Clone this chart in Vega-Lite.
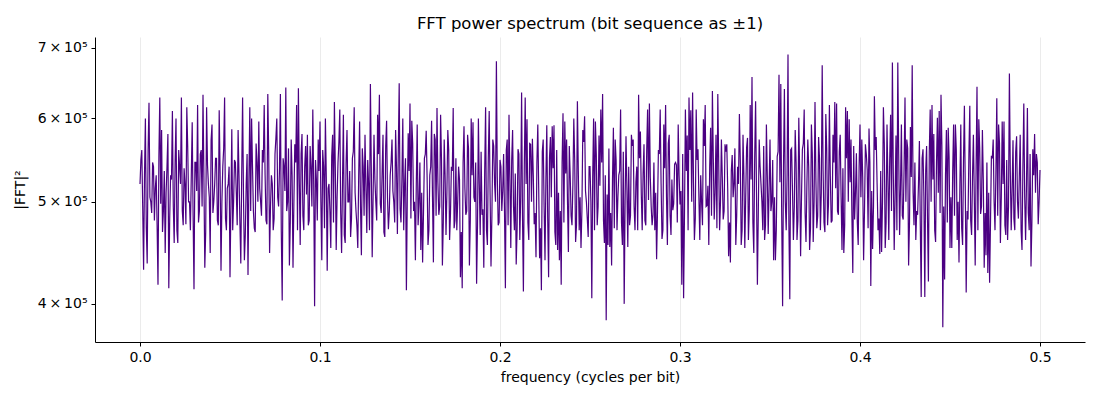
{
  "$schema": "https://vega.github.io/schema/vega-lite/v6.json",
  "width": 990,
  "height": 305,
  "autosize": "none",
  "padding": {"left": 95, "top": 37, "right": 15, "bottom": 58},
  "background": "white",
  "title": {
    "text": "FFT power spectrum (bit sequence as ±1)",
    "font": "DejaVu Sans",
    "fontSize": 16.5,
    "fontWeight": "normal",
    "color": "black",
    "offset": 5
  },
  "data": {
    "values": [
      {"f":0.000,"p":520e3},{"f":0.001,"p":560e3},{"f":0.002,"p":431e3},{"f":0.003,"p":600e3},{"f":0.004,"p":437e3},
      {"f":0.005,"p":621e3},{"f":0.006,"p":500e3},{"f":0.007,"p":545e3},{"f":0.008,"p":480e3},{"f":0.009,"p":530e3},
      {"f":0.010,"p":417e3},{"f":0.011,"p":628e3},{"f":0.012,"p":585e3},{"f":0.013,"p":490e3},{"f":0.014,"p":447e3},
      {"f":0.015,"p":540e3},{"f":0.016,"p":414e3},{"f":0.017,"p":530e3},{"f":0.018,"p":610e3},{"f":0.019,"p":457e3},
      {"f":0.020,"p":600e3},{"f":0.021,"p":457e3},{"f":0.022,"p":540e3},{"f":0.023,"p":628e3},{"f":0.024,"p":475e3},
      {"f":0.025,"p":520e3},{"f":0.026,"p":615e3},{"f":0.027,"p":500e3},{"f":0.028,"p":470e3},{"f":0.029,"p":595e3},
      {"f":0.030,"p":413e3},{"f":0.031,"p":545e3},{"f":0.032,"p":618e3},{"f":0.033,"p":490e3},{"f":0.034,"p":560e3},
      {"f":0.035,"p":632e3},{"f":0.036,"p":433e3},{"f":0.037,"p":615e3},{"f":0.038,"p":520e3},{"f":0.039,"p":447e3},
      {"f":0.040,"p":592e3},{"f":0.041,"p":500e3},{"f":0.042,"p":550e3},{"f":0.043,"p":480e3},{"f":0.044,"p":611e3},
      {"f":0.045,"p":430e3},{"f":0.046,"p":540e3},{"f":0.047,"p":628e3},{"f":0.048,"p":470e3},{"f":0.049,"p":520e3},
      {"f":0.050,"p":424e3},{"f":0.051,"p":586e3},{"f":0.052,"p":500e3},{"f":0.053,"p":545e3},{"f":0.054,"p":475e3},
      {"f":0.055,"p":530e3},{"f":0.056,"p":437e3},{"f":0.057,"p":628e3},{"f":0.058,"p":440e3},{"f":0.059,"p":520e3},
      {"f":0.060,"p":426e3},{"f":0.061,"p":615e3},{"f":0.062,"p":600e3},{"f":0.063,"p":490e3},{"f":0.064,"p":468e3},
      {"f":0.065,"p":545e3},{"f":0.066,"p":596e3},{"f":0.067,"p":500e3},{"f":0.068,"p":560e3},{"f":0.069,"p":618e3},
      {"f":0.070,"p":480e3},{"f":0.071,"p":633e3},{"f":0.072,"p":447e3},{"f":0.073,"p":530e3},{"f":0.074,"p":470e3},
      {"f":0.075,"p":555e3},{"f":0.076,"p":600e3},{"f":0.077,"p":495e3},{"f":0.078,"p":633e3},{"f":0.079,"p":403e3},
      {"f":0.080,"p":540e3},{"f":0.081,"p":642e3},{"f":0.082,"p":500e3},{"f":0.083,"p":435e3},{"f":0.084,"p":573e3},
      {"f":0.085,"p":433e3},{"f":0.086,"p":567e3},{"f":0.087,"p":618e3},{"f":0.088,"p":641e3},{"f":0.089,"p":455e3},
      {"f":0.090,"p":580e3},{"f":0.091,"p":470e3},{"f":0.092,"p":565e3},{"f":0.093,"p":579e3},{"f":0.094,"p":480e3},
      {"f":0.095,"p":540e3},{"f":0.096,"p":612e3},{"f":0.097,"p":398e3},{"f":0.098,"p":525e3},{"f":0.099,"p":573e3},
      {"f":0.100,"p":596e3},{"f":0.101,"p":440e3},{"f":0.102,"p":540e3},{"f":0.103,"p":600e3},{"f":0.104,"p":430e3},
      {"f":0.105,"p":520e3},{"f":0.106,"p":452e3},{"f":0.107,"p":579e3},{"f":0.108,"p":622e3},{"f":0.109,"p":450e3},
      {"f":0.110,"p":545e3},{"f":0.111,"p":612e3},{"f":0.112,"p":447e3},{"f":0.113,"p":605e3},{"f":0.114,"p":457e3},
      {"f":0.115,"p":585e3},{"f":0.116,"p":500e3},{"f":0.117,"p":463e3},{"f":0.118,"p":550e3},{"f":0.119,"p":615e3},
      {"f":0.120,"p":490e3},{"f":0.121,"p":452e3},{"f":0.122,"p":596e3},{"f":0.123,"p":445e3},{"f":0.124,"p":540e3},
      {"f":0.125,"p":579e3},{"f":0.126,"p":467e3},{"f":0.127,"p":520e3},{"f":0.128,"p":647e3},{"f":0.129,"p":443e3},
      {"f":0.130,"p":579e3},{"f":0.131,"p":500e3},{"f":0.132,"p":605e3},{"f":0.133,"p":632e3},{"f":0.134,"p":488e3},
      {"f":0.135,"p":579e3},{"f":0.136,"p":463e3},{"f":0.137,"p":597e3},{"f":0.138,"p":471e3},{"f":0.139,"p":530e3},
      {"f":0.140,"p":573e3},{"f":0.141,"p":500e3},{"f":0.142,"p":585e3},{"f":0.143,"p":466e3},{"f":0.144,"p":648e3},
      {"f":0.145,"p":478e3},{"f":0.146,"p":600e3},{"f":0.147,"p":520e3},{"f":0.148,"p":412e3},{"f":0.149,"p":581e3},
      {"f":0.150,"p":620e3},{"f":0.151,"p":597e3},{"f":0.152,"p":490e3},{"f":0.153,"p":440e3},{"f":0.154,"p":592e3},
      {"f":0.155,"p":500e3},{"f":0.156,"p":450e3},{"f":0.157,"p":438e3},{"f":0.158,"p":550e3},{"f":0.159,"p":584e3},
      {"f":0.160,"p":455e3},{"f":0.161,"p":530e3},{"f":0.162,"p":597e3},{"f":0.163,"p":438e3},{"f":0.164,"p":573e3},
      {"f":0.165,"p":614e3},{"f":0.166,"p":486e3},{"f":0.167,"p":605e3},{"f":0.168,"p":435e3},{"f":0.169,"p":573e3},
      {"f":0.170,"p":465e3},{"f":0.171,"p":585e3},{"f":0.172,"p":460e3},{"f":0.173,"p":540e3},{"f":0.174,"p":614e3},
      {"f":0.175,"p":480e3},{"f":0.176,"p":470e3},{"f":0.177,"p":540e3},{"f":0.178,"p":424e3},{"f":0.179,"p":414e3},
      {"f":0.180,"p":590e3},{"f":0.181,"p":486e3},{"f":0.182,"p":579e3},{"f":0.183,"p":435e3},{"f":0.184,"p":600e3},
      {"f":0.185,"p":595e3},{"f":0.186,"p":500e3},{"f":0.187,"p":418e3},{"f":0.188,"p":600e3},{"f":0.189,"p":465e3},
      {"f":0.190,"p":486e3},{"f":0.191,"p":433e3},{"f":0.192,"p":615e3},{"f":0.193,"p":455e3},{"f":0.194,"p":610e3},
      {"f":0.195,"p":434e3},{"f":0.196,"p":573e3},{"f":0.197,"p":520e3},{"f":0.198,"p":680e3},{"f":0.199,"p":475e3},
      {"f":0.200,"p":548e3},{"f":0.201,"p":490e3},{"f":0.202,"p":555e3},{"f":0.203,"p":414e3},{"f":0.204,"p":573e3},
      {"f":0.205,"p":605e3},{"f":0.206,"p":452e3},{"f":0.207,"p":585e3},{"f":0.208,"p":470e3},{"f":0.209,"p":436e3},
      {"f":0.210,"p":561e3},{"f":0.211,"p":460e3},{"f":0.212,"p":635e3},{"f":0.213,"p":411e3},{"f":0.214,"p":628e3},
      {"f":0.215,"p":599e3},{"f":0.216,"p":460e3},{"f":0.217,"p":567e3},{"f":0.218,"p":574e3},{"f":0.219,"p":476e3},
      {"f":0.220,"p":443e3},{"f":0.221,"p":592e3},{"f":0.222,"p":442e3},{"f":0.223,"p":412e3},{"f":0.224,"p":573e3},
      {"f":0.225,"p":440e3},{"f":0.226,"p":591e3},{"f":0.227,"p":424e3},{"f":0.228,"p":576e3},{"f":0.229,"p":590e3},
      {"f":0.230,"p":591e3},{"f":0.231,"p":455e3},{"f":0.232,"p":450e3},{"f":0.233,"p":440e3},{"f":0.234,"p":417e3},
      {"f":0.235,"p":607e3},{"f":0.236,"p":596e3},{"f":0.237,"p":573e3},{"f":0.238,"p":448e3},{"f":0.239,"p":530e3},
      {"f":0.240,"p":475e3},{"f":0.241,"p":600e3},{"f":0.242,"p":458e3},{"f":0.243,"p":623e3},{"f":0.244,"p":470e3},
      {"f":0.245,"p":452e3},{"f":0.246,"p":585e3},{"f":0.247,"p":603e3},{"f":0.248,"p":500e3},{"f":0.249,"p":463e3},
      {"f":0.250,"p":540e3},{"f":0.251,"p":405e3},{"f":0.252,"p":600e3},{"f":0.253,"p":596e3},{"f":0.254,"p":475e3},
      {"f":0.255,"p":578e3},{"f":0.256,"p":612e3},{"f":0.257,"p":633e3},{"f":0.258,"p":457e3},{"f":0.259,"p":386e3},
      {"f":0.260,"p":455e3},{"f":0.261,"p":453e3},{"f":0.262,"p":435e3},{"f":0.263,"p":588e3},{"f":0.264,"p":573e3},
      {"f":0.265,"p":470e3},{"f":0.266,"p":530e3},{"f":0.267,"p":612e3},{"f":0.268,"p":455e3},{"f":0.269,"p":400e3},
      {"f":0.270,"p":577e3},{"f":0.271,"p":453e3},{"f":0.272,"p":475e3},{"f":0.273,"p":579e3},{"f":0.274,"p":573e3},
      {"f":0.275,"p":470e3},{"f":0.276,"p":540e3},{"f":0.277,"p":632e3},{"f":0.278,"p":583e3},{"f":0.279,"p":470e3},
      {"f":0.280,"p":567e3},{"f":0.281,"p":475e3},{"f":0.282,"p":612e3},{"f":0.283,"p":620e3},{"f":0.284,"p":495e3},
      {"f":0.285,"p":486e3},{"f":0.286,"p":470e3},{"f":0.287,"p":441e3},{"f":0.288,"p":560e3},{"f":0.289,"p":612e3},
      {"f":0.290,"p":461e3},{"f":0.291,"p":592e3},{"f":0.292,"p":618e3},{"f":0.293,"p":455e3},{"f":0.294,"p":579e3},
      {"f":0.295,"p":465e3},{"f":0.296,"p":491e3},{"f":0.297,"p":543e3},{"f":0.298,"p":542e3},{"f":0.299,"p":592e3},
      {"f":0.300,"p":497e3},{"f":0.301,"p":417e3},{"f":0.302,"p":405e3},{"f":0.303,"p":612e3},{"f":0.304,"p":578e3},
      {"f":0.305,"p":628e3},{"f":0.306,"p":611e3},{"f":0.307,"p":635e3},{"f":0.308,"p":460e3},{"f":0.309,"p":612e3},
      {"f":0.310,"p":561e3},{"f":0.311,"p":460e3},{"f":0.312,"p":499e3},{"f":0.313,"p":599e3},{"f":0.314,"p":618e3},
      {"f":0.315,"p":496e3},{"f":0.316,"p":455e3},{"f":0.317,"p":588e3},{"f":0.318,"p":637e3},{"f":0.319,"p":481e3},
      {"f":0.320,"p":579e3},{"f":0.321,"p":633e3},{"f":0.322,"p":470e3},{"f":0.323,"p":573e3},{"f":0.324,"p":481e3},
      {"f":0.325,"p":567e3},{"f":0.326,"p":567e3},{"f":0.327,"p":444e3},{"f":0.328,"p":438e3},{"f":0.329,"p":554e3},
      {"f":0.330,"p":520e3},{"f":0.331,"p":455e3},{"f":0.332,"p":540e3},{"f":0.333,"p":606e3},{"f":0.334,"p":455e3},
      {"f":0.335,"p":579e3},{"f":0.336,"p":452e3},{"f":0.337,"p":563e3},{"f":0.338,"p":460e3},{"f":0.339,"p":618e3},
      {"f":0.340,"p":657e3},{"f":0.341,"p":447e3},{"f":0.342,"p":623e3},{"f":0.343,"p":417e3},{"f":0.344,"p":573e3},
      {"f":0.345,"p":520e3},{"f":0.346,"p":470e3},{"f":0.347,"p":460e3},{"f":0.348,"p":592e3},{"f":0.349,"p":466e3},
      {"f":0.350,"p":573e3},{"f":0.351,"p":500e3},{"f":0.352,"p":440e3},{"f":0.353,"p":440e3},{"f":0.354,"p":552e3},
      {"f":0.355,"p":660e3},{"f":0.356,"p":647e3},{"f":0.357,"p":398e3},{"f":0.358,"p":640e3},{"f":0.359,"p":470e3},
      {"f":0.360,"p":690e3},{"f":0.361,"p":404e3},{"f":0.362,"p":562e3},{"f":0.363,"p":460e3},{"f":0.364,"p":585e3},
      {"f":0.365,"p":460e3},{"f":0.366,"p":601e3},{"f":0.367,"p":444e3},{"f":0.368,"p":561e3},{"f":0.369,"p":612e3},
      {"f":0.370,"p":458e3},{"f":0.371,"p":573e3},{"f":0.372,"p":450e3},{"f":0.373,"p":592e3},{"f":0.374,"p":458e3},
      {"f":0.375,"p":622e3},{"f":0.376,"p":472e3},{"f":0.377,"p":576e3},{"f":0.378,"p":470e3},{"f":0.379,"p":674e3},
      {"f":0.380,"p":478e3},{"f":0.381,"p":606e3},{"f":0.382,"p":475e3},{"f":0.383,"p":618e3},{"f":0.384,"p":478e3},
      {"f":0.385,"p":579e3},{"f":0.386,"p":622e3},{"f":0.387,"p":620e3},{"f":0.388,"p":486e3},{"f":0.389,"p":579e3},
      {"f":0.390,"p":450e3},{"f":0.391,"p":447e3},{"f":0.392,"p":615e3},{"f":0.393,"p":610e3},{"f":0.394,"p":599e3},
      {"f":0.395,"p":573e3},{"f":0.396,"p":428e3},{"f":0.397,"p":481e3},{"f":0.398,"p":556e3},{"f":0.399,"p":455e3},
      {"f":0.400,"p":592e3},{"f":0.401,"p":573e3},{"f":0.402,"p":440e3},{"f":0.403,"p":567e3},{"f":0.404,"p":537e3},
      {"f":0.405,"p":587e3},{"f":0.406,"p":416e3},{"f":0.407,"p":451e3},{"f":0.408,"p":630e3},{"f":0.409,"p":576e3},
      {"f":0.410,"p":470e3},{"f":0.411,"p":446e3},{"f":0.412,"p":448e3},{"f":0.413,"p":615e3},{"f":0.414,"p":452e3},
      {"f":0.415,"p":592e3},{"f":0.416,"p":460e3},{"f":0.417,"p":605e3},{"f":0.418,"p":678e3},{"f":0.419,"p":450e3},
      {"f":0.420,"p":578e3},{"f":0.421,"p":678e3},{"f":0.422,"p":465e3},{"f":0.423,"p":592e3},{"f":0.424,"p":481e3},
      {"f":0.425,"p":628e3},{"f":0.426,"p":573e3},{"f":0.427,"p":435e3},{"f":0.428,"p":589e3},{"f":0.429,"p":674e3},
      {"f":0.430,"p":475e3},{"f":0.431,"p":460e3},{"f":0.432,"p":486e3},{"f":0.433,"p":571e3},{"f":0.434,"p":406e3},
      {"f":0.435,"p":561e3},{"f":0.436,"p":406e3},{"f":0.437,"p":565e3},{"f":0.438,"p":420e3},{"f":0.439,"p":612e3},
      {"f":0.440,"p":618e3},{"f":0.441,"p":580e3},{"f":0.442,"p":458e3},{"f":0.443,"p":601e3},{"f":0.444,"p":610e3},
      {"f":0.445,"p":632e3},{"f":0.446,"p":380e3},{"f":0.447,"p":422e3},{"f":0.448,"p":585e3},{"f":0.449,"p":588e3},
      {"f":0.450,"p":452e3},{"f":0.451,"p":452e3},{"f":0.452,"p":592e3},{"f":0.453,"p":592e3},{"f":0.454,"p":460e3},
      {"f":0.455,"p":438e3},{"f":0.456,"p":592e3},{"f":0.457,"p":455e3},{"f":0.458,"p":617e3},{"f":0.459,"p":410e3},
      {"f":0.460,"p":481e3},{"f":0.461,"p":617e3},{"f":0.462,"p":465e3},{"f":0.463,"p":579e3},{"f":0.464,"p":435e3},
      {"f":0.465,"p":643e3},{"f":0.466,"p":599e3},{"f":0.467,"p":487e3},{"f":0.468,"p":585e3},{"f":0.469,"p":433e3},
      {"f":0.470,"p":445e3},{"f":0.471,"p":428e3},{"f":0.472,"p":419e3},{"f":0.473,"p":553e3},{"f":0.474,"p":573e3},
      {"f":0.475,"p":470e3},{"f":0.476,"p":627e3},{"f":0.477,"p":592e3},{"f":0.478,"p":457e3},{"f":0.479,"p":596e3},
      {"f":0.480,"p":596e3},{"f":0.481,"p":465e3},{"f":0.482,"p":460e3},{"f":0.483,"p":662e3},{"f":0.484,"p":470e3},
      {"f":0.485,"p":572e3},{"f":0.486,"p":470e3},{"f":0.487,"p":577e3},{"f":0.488,"p":482e3},{"f":0.489,"p":579e3},
      {"f":0.490,"p":450e3},{"f":0.491,"p":620e3},{"f":0.492,"p":460e3},{"f":0.493,"p":614e3},{"f":0.494,"p":470e3},
      {"f":0.495,"p":434e3},{"f":0.496,"p":561e3},{"f":0.497,"p":580e3},{"f":0.498,"p":555e3},{"f":0.499,"p":476e3},
      {"f":0.500,"p":536e3},
      {"f":0.0005,"p":548e3},{"f":0.0015,"p":495e3},{"f":0.0025,"p":530e3},{"f":0.0035,"p":472e3},{"f":0.0045,"p":560e3},
      {"f":0.0055,"p":505e3},{"f":0.0065,"p":488e3},{"f":0.0075,"p":540e3},{"f":0.0085,"p":515e3},{"f":0.0095,"p":475e3},
      {"f":0.0105,"p":552e3},{"f":0.0115,"p":498e3},{"f":0.0125,"p":468e3},{"f":0.0135,"p":535e3},{"f":0.0145,"p":510e3},
      {"f":0.0155,"p":580e3},{"f":0.0165,"p":482e3},{"f":0.0175,"p":525e3},{"f":0.0185,"p":495e3},{"f":0.0195,"p":545e3},
      {"f":0.0205,"p":470e3},{"f":0.0215,"p":560e3},{"f":0.0225,"p":520e3},{"f":0.0235,"p":490e3},{"f":0.0245,"p":538e3},
      {"f":0.0255,"p":476e3},{"f":0.0265,"p":565e3},{"f":0.0275,"p":500e3},{"f":0.0285,"p":530e3},{"f":0.0295,"p":485e3},
      {"f":0.0305,"p":545e3},{"f":0.0315,"p":512e3},{"f":0.0325,"p":478e3},{"f":0.0335,"p":555e3},{"f":0.0345,"p":495e3},
      {"f":0.0355,"p":528e3},{"f":0.0365,"p":468e3},{"f":0.0375,"p":542e3},{"f":0.0385,"p":505e3},{"f":0.0395,"p":572e3},
      {"f":0.0405,"p":488e3},{"f":0.0415,"p":520e3},{"f":0.0425,"p":550e3},{"f":0.0435,"p":475e3},{"f":0.0445,"p":533e3},
      {"f":0.0455,"p":500e3},{"f":0.0465,"p":562e3},{"f":0.0475,"p":482e3},{"f":0.0485,"p":515e3},{"f":0.0495,"p":540e3},
      {"f":0.0505,"p":495e3},{"f":0.0515,"p":470e3},{"f":0.0525,"p":548e3},{"f":0.0535,"p":510e3},{"f":0.0545,"p":585e3},
      {"f":0.0555,"p":478e3},{"f":0.0565,"p":530e3},{"f":0.0575,"p":505e3},{"f":0.0585,"p":465e3},{"f":0.0595,"p":555e3},
      {"f":0.0605,"p":522e3},{"f":0.0615,"p":490e3},{"f":0.0625,"p":540e3},{"f":0.0635,"p":472e3},{"f":0.0645,"p":568e3},
      {"f":0.0655,"p":500e3},{"f":0.0665,"p":515e3},{"f":0.0675,"p":485e3},{"f":0.0685,"p":545e3},{"f":0.0695,"p":530e3},
      {"f":0.0705,"p":476e3},{"f":0.0715,"p":558e3},{"f":0.0725,"p":495e3},{"f":0.0735,"p":520e3},{"f":0.0745,"p":482e3},
      {"f":0.0755,"p":575e3},{"f":0.0765,"p":505e3},{"f":0.0775,"p":538e3},{"f":0.0785,"p":468e3},{"f":0.0795,"p":550e3},
      {"f":0.0805,"p":512e3},{"f":0.0815,"p":490e3},{"f":0.0825,"p":562e3},{"f":0.0835,"p":478e3},{"f":0.0845,"p":530e3},
      {"f":0.0855,"p":500e3},{"f":0.0865,"p":545e3},{"f":0.0875,"p":470e3},{"f":0.0885,"p":525e3},{"f":0.0895,"p":555e3},
      {"f":0.0905,"p":485e3},{"f":0.0915,"p":540e3},{"f":0.0925,"p":508e3},{"f":0.0935,"p":475e3},{"f":0.0945,"p":565e3},
      {"f":0.0955,"p":495e3},{"f":0.0965,"p":520e3},{"f":0.0975,"p":548e3},{"f":0.0985,"p":480e3},{"f":0.0995,"p":535e3},
      {"f":0.1005,"p":500e3},{"f":0.1015,"p":560e3},{"f":0.1025,"p":472e3},{"f":0.1035,"p":528e3},{"f":0.1045,"p":515e3},
      {"f":0.1055,"p":490e3},{"f":0.1065,"p":552e3},{"f":0.1075,"p":478e3},{"f":0.1085,"p":540e3},{"f":0.1095,"p":505e3},
      {"f":0.1105,"p":570e3},{"f":0.1115,"p":488e3},{"f":0.1125,"p":522e3},{"f":0.1135,"p":465e3},{"f":0.1145,"p":545e3},
      {"f":0.1155,"p":500e3},{"f":0.1165,"p":535e3},{"f":0.1175,"p":482e3},{"f":0.1185,"p":558e3},{"f":0.1195,"p":510e3},
      {"f":0.1205,"p":475e3},{"f":0.1215,"p":530e3},{"f":0.1225,"p":495e3},{"f":0.1235,"p":562e3},{"f":0.1245,"p":485e3},
      {"f":0.1255,"p":518e3},{"f":0.1265,"p":548e3},{"f":0.1275,"p":470e3},{"f":0.1285,"p":540e3},{"f":0.1295,"p":505e3},
      {"f":0.1305,"p":525e3},{"f":0.1315,"p":480e3},{"f":0.1325,"p":555e3},{"f":0.1335,"p":498e3},{"f":0.1345,"p":532e3},
      {"f":0.1355,"p":468e3},{"f":0.1365,"p":565e3},{"f":0.1375,"p":505e3},{"f":0.1385,"p":490e3},{"f":0.1395,"p":545e3},
      {"f":0.1405,"p":512e3},{"f":0.1415,"p":478e3},{"f":0.1425,"p":540e3},{"f":0.1435,"p":560e3},{"f":0.1445,"p":492e3},
      {"f":0.1455,"p":525e3},{"f":0.1465,"p":470e3},{"f":0.1475,"p":550e3},{"f":0.1485,"p":505e3},{"f":0.1495,"p":535e3},
      {"f":0.1505,"p":482e3},{"f":0.1515,"p":568e3},{"f":0.1525,"p":500e3},{"f":0.1535,"p":520e3},{"f":0.1545,"p":475e3},
      {"f":0.1555,"p":545e3},{"f":0.1565,"p":510e3},{"f":0.1575,"p":488e3},{"f":0.1585,"p":555e3},{"f":0.1595,"p":528e3},
      {"f":0.1605,"p":470e3},{"f":0.1615,"p":540e3},{"f":0.1625,"p":505e3},{"f":0.1635,"p":580e3},{"f":0.1645,"p":485e3},
      {"f":0.1655,"p":522e3},{"f":0.1665,"p":495e3},{"f":0.1675,"p":548e3},{"f":0.1685,"p":478e3},{"f":0.1695,"p":530e3},
      {"f":0.1705,"p":510e3},{"f":0.1715,"p":560e3},{"f":0.1725,"p":488e3},{"f":0.1735,"p":535e3},{"f":0.1745,"p":472e3},
      {"f":0.1755,"p":550e3},{"f":0.1765,"p":500e3},{"f":0.1775,"p":525e3},{"f":0.1785,"p":468e3},{"f":0.1795,"p":545e3},
      {"f":0.1805,"p":515e3},{"f":0.1815,"p":490e3},{"f":0.1825,"p":562e3},{"f":0.1835,"p":480e3},{"f":0.1845,"p":530e3},
      {"f":0.1855,"p":505e3},{"f":0.1865,"p":545e3},{"f":0.1875,"p":475e3},{"f":0.1885,"p":520e3},{"f":0.1895,"p":558e3},
      {"f":0.1905,"p":492e3},{"f":0.1915,"p":535e3},{"f":0.1925,"p":470e3},{"f":0.1935,"p":550e3},{"f":0.1945,"p":508e3},
      {"f":0.1955,"p":485e3},{"f":0.1965,"p":565e3},{"f":0.1975,"p":500e3},{"f":0.1985,"p":528e3},{"f":0.1995,"p":478e3},
      {"f":0.2005,"p":540e3},{"f":0.2015,"p":512e3},{"f":0.2025,"p":490e3},{"f":0.2035,"p":560e3},{"f":0.2045,"p":475e3},
      {"f":0.2055,"p":525e3},{"f":0.2065,"p":548e3},{"f":0.2075,"p":495e3},{"f":0.2085,"p":532e3},{"f":0.2095,"p":470e3},
      {"f":0.2105,"p":555e3},{"f":0.2115,"p":505e3},{"f":0.2125,"p":485e3},{"f":0.2135,"p":540e3},{"f":0.2145,"p":520e3},
      {"f":0.2155,"p":478e3},{"f":0.2165,"p":568e3},{"f":0.2175,"p":500e3},{"f":0.2185,"p":530e3},{"f":0.2195,"p":488e3},
      {"f":0.2205,"p":545e3},{"f":0.2215,"p":515e3},{"f":0.2225,"p":472e3},{"f":0.2235,"p":558e3},{"f":0.2245,"p":495e3},
      {"f":0.2255,"p":525e3},{"f":0.2265,"p":482e3},{"f":0.2275,"p":550e3},{"f":0.2285,"p":505e3},{"f":0.2295,"p":538e3},
      {"f":0.2305,"p":468e3},{"f":0.2315,"p":560e3},{"f":0.2325,"p":510e3},{"f":0.2335,"p":490e3},{"f":0.2345,"p":545e3},
      {"f":0.2355,"p":478e3},{"f":0.2365,"p":532e3},{"f":0.2375,"p":500e3},{"f":0.2385,"p":565e3},{"f":0.2395,"p":485e3},
      {"f":0.2405,"p":520e3},{"f":0.2415,"p":548e3},{"f":0.2425,"p":475e3},{"f":0.2435,"p":535e3},{"f":0.2445,"p":505e3},
      {"f":0.2455,"p":490e3},{"f":0.2465,"p":570e3},{"f":0.2475,"p":512e3},{"f":0.2485,"p":482e3},{"f":0.2495,"p":540e3},
      {"f":0.2505,"p":500e3},{"f":0.2515,"p":528e3},{"f":0.2525,"p":470e3},{"f":0.2535,"p":555e3},{"f":0.2545,"p":495e3},
      {"f":0.2555,"p":518e3},{"f":0.2565,"p":545e3},{"f":0.2575,"p":480e3},{"f":0.2585,"p":530e3},{"f":0.2595,"p":508e3},
      {"f":0.2605,"p":562e3},{"f":0.2615,"p":488e3},{"f":0.2625,"p":525e3},{"f":0.2635,"p":472e3},{"f":0.2645,"p":548e3},
      {"f":0.2655,"p":505e3},{"f":0.2665,"p":535e3},{"f":0.2675,"p":478e3},{"f":0.2685,"p":558e3},{"f":0.2695,"p":500e3},
      {"f":0.2705,"p":515e3},{"f":0.2715,"p":540e3},{"f":0.2725,"p":485e3},{"f":0.2735,"p":565e3},{"f":0.2745,"p":495e3},
      {"f":0.2755,"p":522e3},{"f":0.2765,"p":470e3},{"f":0.2775,"p":550e3},{"f":0.2785,"p":508e3},{"f":0.2795,"p":532e3},
      {"f":0.2805,"p":480e3},{"f":0.2815,"p":560e3},{"f":0.2825,"p":502e3},{"f":0.2835,"p":528e3},{"f":0.2845,"p":475e3},
      {"f":0.2855,"p":545e3},{"f":0.2865,"p":510e3},{"f":0.2875,"p":490e3},{"f":0.2885,"p":555e3},{"f":0.2895,"p":520e3},
      {"f":0.2905,"p":470e3},{"f":0.2915,"p":538e3},{"f":0.2925,"p":505e3},{"f":0.2935,"p":568e3},{"f":0.2945,"p":485e3},
      {"f":0.2955,"p":525e3},{"f":0.2965,"p":498e3},{"f":0.2975,"p":545e3},{"f":0.2985,"p":478e3},{"f":0.2995,"p":530e3},
      {"f":0.3005,"p":512e3},{"f":0.3015,"p":555e3},{"f":0.3025,"p":488e3},{"f":0.3035,"p":535e3},{"f":0.3045,"p":470e3},
      {"f":0.3055,"p":560e3},{"f":0.3065,"p":500e3},{"f":0.3075,"p":522e3},{"f":0.3085,"p":482e3},{"f":0.3095,"p":548e3},
      {"f":0.3105,"p":505e3},{"f":0.3115,"p":530e3},{"f":0.3125,"p":475e3},{"f":0.3135,"p":565e3},{"f":0.3145,"p":495e3},
      {"f":0.3155,"p":518e3},{"f":0.3165,"p":540e3},{"f":0.3175,"p":485e3},{"f":0.3185,"p":550e3},{"f":0.3195,"p":510e3},
      {"f":0.3205,"p":472e3},{"f":0.3215,"p":545e3},{"f":0.3225,"p":500e3},{"f":0.3235,"p":528e3},{"f":0.3245,"p":490e3},
      {"f":0.3255,"p":558e3},{"f":0.3265,"p":515e3},{"f":0.3275,"p":478e3},{"f":0.3285,"p":535e3},{"f":0.3295,"p":505e3},
      {"f":0.3305,"p":562e3},{"f":0.3315,"p":485e3},{"f":0.3325,"p":520e3},{"f":0.3335,"p":548e3},{"f":0.3345,"p":470e3},
      {"f":0.3355,"p":530e3},{"f":0.3365,"p":505e3},{"f":0.3375,"p":575e3},{"f":0.3385,"p":492e3},{"f":0.3395,"p":525e3},
      {"f":0.3405,"p":478e3},{"f":0.3415,"p":552e3},{"f":0.3425,"p":510e3},{"f":0.3435,"p":488e3},{"f":0.3445,"p":540e3},
      {"f":0.3455,"p":500e3},{"f":0.3465,"p":565e3},{"f":0.3475,"p":475e3},{"f":0.3485,"p":530e3},{"f":0.3495,"p":515e3},
      {"f":0.3505,"p":490e3},{"f":0.3515,"p":548e3},{"f":0.3525,"p":505e3},{"f":0.3535,"p":470e3},{"f":0.3545,"p":558e3},
      {"f":0.3555,"p":522e3},{"f":0.3565,"p":485e3},{"f":0.3575,"p":540e3},{"f":0.3585,"p":500e3},{"f":0.3595,"p":532e3},
      {"f":0.3605,"p":475e3},{"f":0.3615,"p":560e3},{"f":0.3625,"p":512e3},{"f":0.3635,"p":495e3},{"f":0.3645,"p":545e3},
      {"f":0.3655,"p":480e3},{"f":0.3665,"p":528e3},{"f":0.3675,"p":505e3},{"f":0.3685,"p":568e3},{"f":0.3695,"p":488e3},
      {"f":0.3705,"p":520e3},{"f":0.3715,"p":540e3},{"f":0.3725,"p":472e3},{"f":0.3735,"p":555e3},{"f":0.3745,"p":500e3},
      {"f":0.3755,"p":525e3},{"f":0.3765,"p":485e3},{"f":0.3775,"p":550e3},{"f":0.3785,"p":510e3},{"f":0.3795,"p":535e3},
      {"f":0.3805,"p":468e3},{"f":0.3815,"p":562e3},{"f":0.3825,"p":498e3},{"f":0.3835,"p":530e3},{"f":0.3845,"p":480e3},
      {"f":0.3855,"p":545e3},{"f":0.3865,"p":515e3},{"f":0.3875,"p":490e3},{"f":0.3885,"p":558e3},{"f":0.3895,"p":505e3},
      {"f":0.3905,"p":538e3},{"f":0.3915,"p":475e3},{"f":0.3925,"p":550e3},{"f":0.3935,"p":500e3},{"f":0.3945,"p":522e3},
      {"f":0.3955,"p":485e3},{"f":0.3965,"p":565e3},{"f":0.3975,"p":510e3},{"f":0.3985,"p":478e3},{"f":0.3995,"p":540e3},
      {"f":0.4005,"p":505e3},{"f":0.4015,"p":528e3},{"f":0.4025,"p":490e3},{"f":0.4035,"p":555e3},{"f":0.4045,"p":472e3},
      {"f":0.4055,"p":545e3},{"f":0.4065,"p":512e3},{"f":0.4075,"p":495e3},{"f":0.4085,"p":560e3},{"f":0.4095,"p":520e3},
      {"f":0.4105,"p":482e3},{"f":0.4115,"p":535e3},{"f":0.4125,"p":500e3},{"f":0.4135,"p":568e3},{"f":0.4145,"p":478e3},
      {"f":0.4155,"p":525e3},{"f":0.4165,"p":548e3},{"f":0.4175,"p":490e3},{"f":0.4185,"p":532e3},{"f":0.4195,"p":505e3},
      {"f":0.4205,"p":470e3},{"f":0.4215,"p":555e3},{"f":0.4225,"p":515e3},{"f":0.4235,"p":485e3},{"f":0.4245,"p":540e3},
      {"f":0.4255,"p":500e3},{"f":0.4265,"p":562e3},{"f":0.4275,"p":478e3},{"f":0.4285,"p":528e3},{"f":0.4295,"p":510e3},
      {"f":0.4305,"p":545e3},{"f":0.4315,"p":490e3},{"f":0.4325,"p":520e3},{"f":0.4335,"p":475e3},{"f":0.4345,"p":550e3},
      {"f":0.4355,"p":505e3},{"f":0.4365,"p":535e3},{"f":0.4375,"p":482e3},{"f":0.4385,"p":558e3},{"f":0.4395,"p":500e3},
      {"f":0.4405,"p":525e3},{"f":0.4415,"p":470e3},{"f":0.4425,"p":545e3},{"f":0.4435,"p":510e3},{"f":0.4445,"p":488e3},
      {"f":0.4455,"p":565e3},{"f":0.4465,"p":495e3},{"f":0.4475,"p":530e3},{"f":0.4485,"p":478e3},{"f":0.4495,"p":552e3},
      {"f":0.4505,"p":505e3},{"f":0.4515,"p":535e3},{"f":0.4525,"p":485e3},{"f":0.4535,"p":560e3},{"f":0.4545,"p":500e3},
      {"f":0.4555,"p":520e3},{"f":0.4565,"p":472e3},{"f":0.4575,"p":548e3},{"f":0.4585,"p":512e3},{"f":0.4595,"p":490e3},
      {"f":0.4605,"p":555e3},{"f":0.4615,"p":480e3},{"f":0.4625,"p":528e3},{"f":0.4635,"p":505e3},{"f":0.4645,"p":540e3},
      {"f":0.4655,"p":470e3},{"f":0.4665,"p":562e3},{"f":0.4675,"p":495e3},{"f":0.4685,"p":525e3},{"f":0.4695,"p":488e3},
      {"f":0.4705,"p":545e3},{"f":0.4715,"p":510e3},{"f":0.4725,"p":478e3},{"f":0.4735,"p":550e3},{"f":0.4745,"p":500e3},
      {"f":0.4755,"p":532e3},{"f":0.4765,"p":485e3},{"f":0.4775,"p":568e3},{"f":0.4785,"p":505e3},{"f":0.4795,"p":520e3},
      {"f":0.4805,"p":475e3},{"f":0.4815,"p":548e3},{"f":0.4825,"p":495e3},{"f":0.4835,"p":535e3},{"f":0.4845,"p":512e3},
      {"f":0.4855,"p":482e3},{"f":0.4865,"p":558e3},{"f":0.4875,"p":500e3},{"f":0.4885,"p":528e3},{"f":0.4895,"p":470e3},
      {"f":0.4905,"p":540e3},{"f":0.4915,"p":505e3},{"f":0.4925,"p":520e3},{"f":0.4935,"p":488e3},{"f":0.4945,"p":555e3},
      {"f":0.4955,"p":478e3},{"f":0.4965,"p":530e3},{"f":0.4975,"p":510e3},{"f":0.4985,"p":545e3},{"f":0.4995,"p":500e3}
    ]
  },
  "mark": {"type": "line", "color": "#4b0082", "strokeWidth": 1.2, "clip": true},
  "encoding": {
    "x": {
      "field": "f",
      "type": "quantitative",
      "title": "frequency (cycles per bit)",
      "scale": {"domain": [-0.025, 0.525], "nice": false, "zero": false},
      "axis": {
        "values": [0, 0.1, 0.2, 0.3, 0.4, 0.5],
        "format": ".1f",
        "grid": true
      }
    },
    "y": {
      "field": "p",
      "type": "quantitative",
      "title": "|FFT|²",
      "scale": {"type": "log", "domain": [368000, 717000], "nice": false, "zero": false},
      "axis": {
        "values": [400000, 500000, 600000, 700000],
        "labelExpr": "format(datum.value / 100000, 'd') + '\u2009×\u200910⁵'",
        "grid": false,
        "titlePadding": 10
      }
    }
  },
  "config": {
    "view": {"stroke": null},
    "font": "DejaVu Sans",
    "axis": {
      "labelFont": "DejaVu Sans",
      "titleFont": "DejaVu Sans",
      "labelFontSize": 14,
      "titleFontSize": 14,
      "titleFontWeight": "normal",
      "labelColor": "black",
      "titleColor": "black",
      "domainColor": "black",
      "domainWidth": 1,
      "tickColor": "black",
      "tickSize": 4,
      "tickWidth": 1,
      "labelPadding": 4,
      "gridColor": "#e6e6e6",
      "gridWidth": 0.8
    },
    "axisX": {"titlePadding": 6}
  }
}
